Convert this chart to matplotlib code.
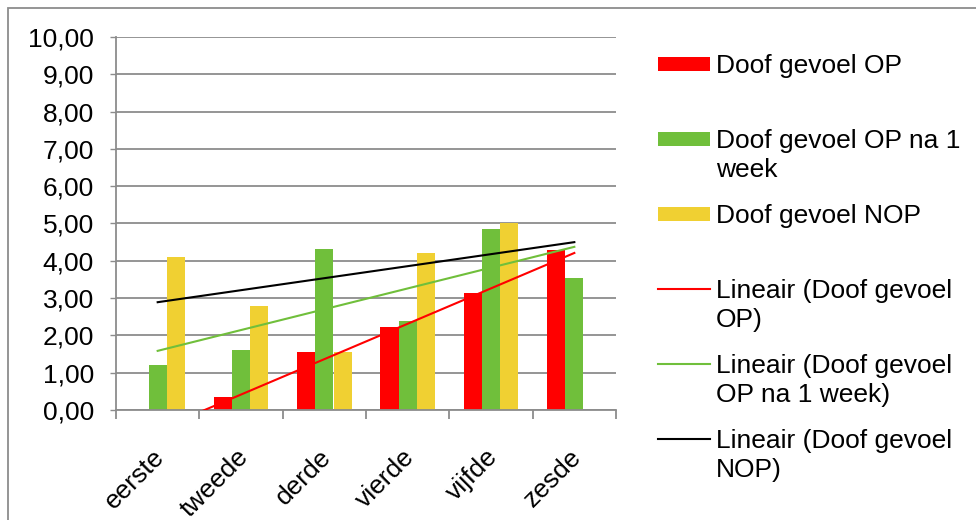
import numpy as np
import matplotlib
matplotlib.use("Agg")
import matplotlib.pyplot as plt
from matplotlib.patches import Rectangle
from matplotlib.lines import Line2D
import matplotlib.transforms as mtransforms

plt.rcParams['font.family'] = ['Liberation Sans', 'DejaVu Sans']

# ---- data ----
categories = ["eerste", "tweede", "derde", "vierde", "vijfde", "zesde"]
op = [np.nan, 0.35, 1.55, 2.22, 3.14, 4.30]
op_week = [1.20, 1.60, 4.31, 2.38, 4.85, 3.54]
nop = [4.10, 2.80, 1.55, 4.22, 5.00, np.nan]
series_names = ["Doof gevoel OP", "Doof gevoel OP na 1\nweek", "Doof gevoel NOP"]
trend_names = ["Lineair (Doof gevoel\nOP)", "Lineair (Doof gevoel\nOP na 1 week)",
               "Lineair (Doof gevoel\nNOP)"]
yticks = [0, 1, 2, 3, 4, 5, 6, 7, 8, 9, 10]
yticklabels = [f"{v:.2f}".replace(".", ",") for v in yticks]

colors = ["#FF0000", "#70BF3B", "#F0D032"]
trend_colors = ["#FF0000", "#70BF3B", "#000000"]
grid_c = "#8C8C8C"
fs = 19

W, H = 976, 520
fig = plt.figure(figsize=(W / 100, H / 100), dpi=100)
fig.patch.set_facecolor("white")

def fx(px):
    return px / W

def fy(py):
    return 1 - py / H

ax = fig.add_axes([fx(116), fy(410), fx(616) - fx(116), fy(37) - fy(410)])
x = np.arange(len(categories))
bw = 0.22
data = [op, op_week, nop]
for i, (vals, c) in enumerate(zip(data, colors)):
    ax.bar(x + (i - 1) * bw, vals, width=bw, color=c, zorder=2, linewidth=0)

# linear trendlines (least squares on available points, drawn over full category range)
xs = x.astype(float)
for vals, c in zip(data, trend_colors):
    v = np.array(vals, dtype=float)
    m = ~np.isnan(v)
    k, b = np.polyfit(xs[m], v[m], 1)
    ax.plot([xs[0], xs[-1]], [k * xs[0] + b, k * xs[-1] + b], color=c, lw=1.5, zorder=3)

ax.set_xlim(-0.5, len(categories) - 0.5)
ax.set_ylim(0, 10)
ax.set_yticks(yticks)
ax.set_yticklabels(yticklabels, fontsize=fs)
ax.yaxis.grid(True, color=grid_c, lw=1.3, zorder=0)
ax.set_axisbelow(True)
ax.tick_params(axis='y', length=6 * 0.72, width=1, color=grid_c, pad=11.5)

ax.set_xticks(x)
ax.set_xticklabels(categories, fontsize=fs, rotation=45, ha='right',
                   rotation_mode='anchor', va='top')
ax.tick_params(axis='x', which='major', length=0, pad=25)
shift = mtransforms.ScaledTranslation(-5 / 100, 0, fig.dpi_scale_trans)
for lbl in ax.get_xticklabels():
    lbl.set_transform(lbl.get_transform() + shift)
ax.set_xticks(np.arange(len(categories) + 1) - 0.5, minor=True)
ax.tick_params(axis='x', which='minor', length=9 * 0.72, width=1.3, color=grid_c)

for s in ["top", "right"]:
    ax.spines[s].set_visible(False)
for s in ["left", "bottom"]:
    ax.spines[s].set_color(grid_c)
    ax.spines[s].set_linewidth(1.3)

# legend (manual, handle aligned with first text line)
entry_y = [64, 139, 214, 289, 364, 439]
line_h = 29
labels = series_names + trend_names
for j, (yy, lab) in enumerate(zip(entry_y, labels)):
    if j < 3:
        fig.add_artist(Rectangle((fx(658), fy(yy + 7)), fx(710) - fx(658), 14 / H,
                                 transform=fig.transFigure, color=colors[j], lw=0))
    else:
        fig.add_artist(Line2D([fx(658), fx(710)], [fy(yy), fy(yy)],
                              transform=fig.transFigure, color=trend_colors[j - 3], lw=1.5))
    for k, part in enumerate(lab.split("\n")):
        fig.text(fx(716), fy(yy + 9 + k * line_h), part, fontsize=fs,
                 va='baseline', ha='left')

# chart border
fig.add_artist(Rectangle((fx(8), -0.1), 1.2, fy(8) + 0.1, transform=fig.transFigure,
                         fill=False, edgecolor=grid_c, lw=1.3))

fig.savefig("out.png", dpi=100)
